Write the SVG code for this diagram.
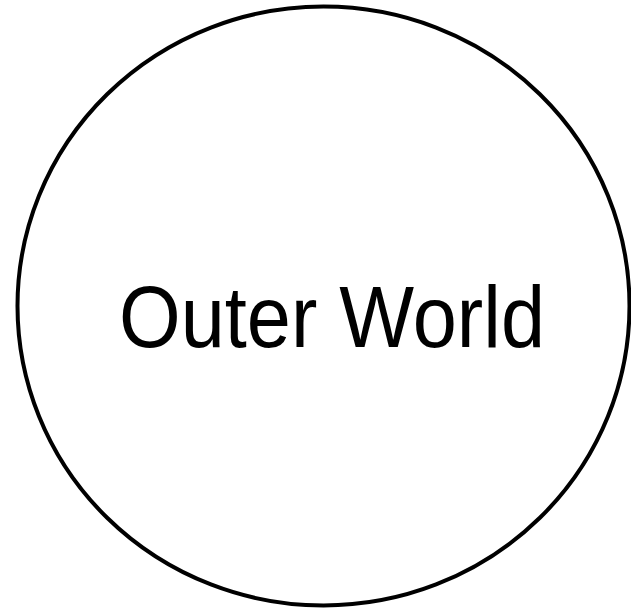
<svg xmlns="http://www.w3.org/2000/svg" width="631" height="611" viewBox="0 0 631 611">
<style>
.node-shape{fill:#ffffff;stroke:#000000;stroke-width:4}
.label{font-family:"Liberation Sans","Open Sans",Arial,sans-serif;font-size:87px;fill:#000000}
</style>
<rect width="631" height="611" fill="#ffffff"/>
<g id="connectors"></g>
<g id="outer-world">
<ellipse class="node-shape" cx="323.5" cy="306" rx="306" ry="299.5"/>
<text class="label" x="332" y="347" text-anchor="middle" textLength="426" lengthAdjust="spacingAndGlyphs">Outer World</text>
</g>
</svg>
